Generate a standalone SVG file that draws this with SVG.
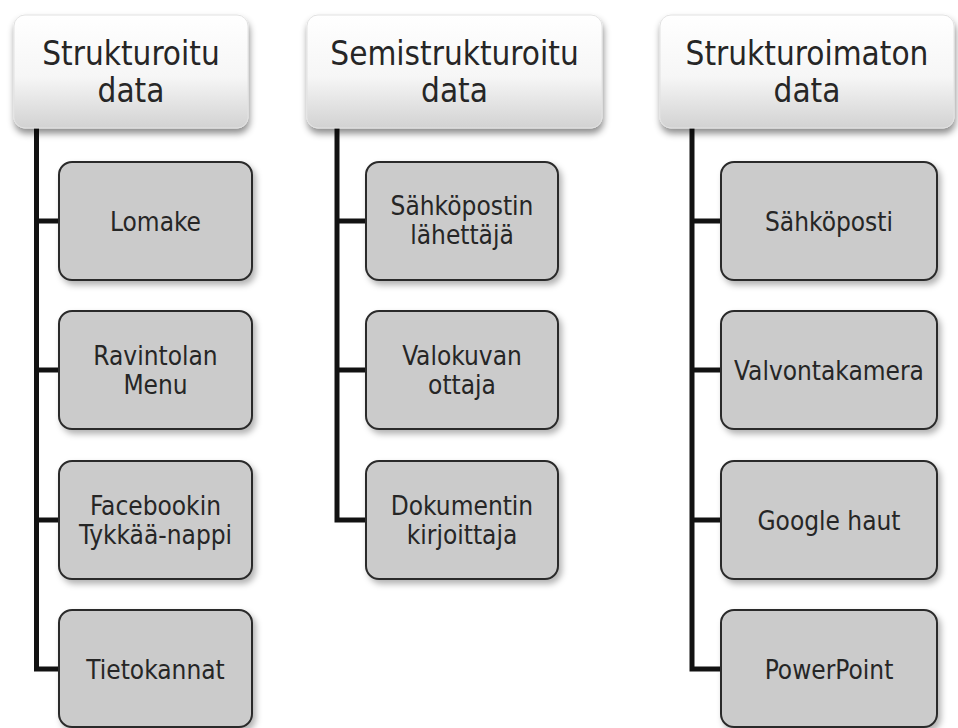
<svg xmlns="http://www.w3.org/2000/svg" width="958" height="728" viewBox="0 0 958 728">
  <defs>
    <linearGradient id="headFill" x1="0" y1="0" x2="0" y2="1">
      <stop offset="0" stop-color="#ffffff"/>
      <stop offset="0.55" stop-color="#f6f6f6"/>
      <stop offset="1" stop-color="#d2d2d2"/>
    </linearGradient>
    <filter id="headShadow" x="-10%" y="-10%" width="120%" height="135%">
      <feDropShadow dx="1" dy="5" stdDeviation="3.5" flood-color="#000" flood-opacity="0.45"/>
    </filter>
    <filter id="itemShadow" x="-10%" y="-10%" width="125%" height="130%">
      <feDropShadow dx="3" dy="4" stdDeviation="3" flood-color="#000" flood-opacity="0.3"/>
    </filter>
  </defs>
  <style>
    .head rect { fill: url(#headFill); stroke: #e2e2e2; stroke-width: 1; filter: url(#headShadow); }
    .item rect { fill: #cbcbcb; stroke: #2a2a2a; stroke-width: 2; filter: url(#itemShadow); }
    text { font-family: "DejaVu Sans Condensed", "DejaVu Sans", Tahoma, sans-serif; fill: #262626; text-anchor: middle; }
    .head text { font-size: 33px; }
    .item text { font-size: 26px; }
    .wire { fill: none; stroke: #121212; stroke-width: 5; stroke-linejoin: miter; }
  </style>

  <rect width="958" height="728" fill="#ffffff"/>

  <!-- tree connectors -->
  <g id="connectors">
    <path class="wire" d="M36.5 128 V669 H59 M36.5 221 H59 M36.5 370 H59 M36.5 520 H59"/>
    <path class="wire" d="M337 128 V520 H366 M337 221 H366 M337 370 H366"/>
    <path class="wire" d="M692 128 V669 H721 M692 221 H721 M692 370 H721 M692 520 H721"/>
  </g>

  <!-- column headers -->
  <g id="head-strukturoitu" class="head">
    <rect x="14" y="15" width="234" height="113" rx="11"/>
    <text x="131" y="65">Strukturoitu</text>
    <text x="131" y="102">data</text>
  </g>
  <g id="head-semistrukturoitu" class="head">
    <rect x="307" y="15" width="295" height="113" rx="11"/>
    <text x="454.5" y="65">Semistrukturoitu</text>
    <text x="454.5" y="102">data</text>
  </g>
  <g id="head-strukturoimaton" class="head">
    <rect x="660" y="15" width="294" height="113" rx="11"/>
    <text x="807" y="65">Strukturoimaton</text>
    <text x="807" y="102">data</text>
  </g>

  <!-- structured data items -->
  <g id="item-lomake" class="item">
    <rect x="59" y="162" width="193" height="118" rx="13"/>
    <text x="155.5" y="231">Lomake</text>
  </g>
  <g id="item-ravintolan-menu" class="item">
    <rect x="59" y="311" width="193" height="118" rx="13"/>
    <text x="155.5" y="365">Ravintolan</text>
    <text x="155.5" y="394">Menu</text>
  </g>
  <g id="item-facebookin" class="item">
    <rect x="59" y="461" width="193" height="118" rx="13"/>
    <text x="155.5" y="515">Facebookin</text>
    <text x="155.5" y="544">Tykkää-nappi</text>
  </g>
  <g id="item-tietokannat" class="item">
    <rect x="59" y="610" width="193" height="117" rx="13"/>
    <text x="155.5" y="679">Tietokannat</text>
  </g>

  <!-- semi-structured data items -->
  <g id="item-sahkopostin-lahettaja" class="item">
    <rect x="366" y="162" width="192" height="118" rx="13"/>
    <text x="462" y="215">Sähköpostin</text>
    <text x="462" y="244">lähettäjä</text>
  </g>
  <g id="item-valokuvan-ottaja" class="item">
    <rect x="366" y="311" width="192" height="118" rx="13"/>
    <text x="462" y="365">Valokuvan</text>
    <text x="462" y="394">ottaja</text>
  </g>
  <g id="item-dokumentin-kirjoittaja" class="item">
    <rect x="366" y="461" width="192" height="118" rx="13"/>
    <text x="462" y="515">Dokumentin</text>
    <text x="462" y="544">kirjoittaja</text>
  </g>

  <!-- unstructured data items -->
  <g id="item-sahkoposti" class="item">
    <rect x="721" y="162" width="216" height="118" rx="13"/>
    <text x="829" y="231">Sähköposti</text>
  </g>
  <g id="item-valvontakamera" class="item">
    <rect x="721" y="311" width="216" height="118" rx="13"/>
    <text x="829" y="380">Valvontakamera</text>
  </g>
  <g id="item-google-haut" class="item">
    <rect x="721" y="461" width="216" height="118" rx="13"/>
    <text x="829" y="530">Google haut</text>
  </g>
  <g id="item-powerpoint" class="item">
    <rect x="721" y="610" width="216" height="117" rx="13"/>
    <text x="829" y="679">PowerPoint</text>
  </g>
</svg>
